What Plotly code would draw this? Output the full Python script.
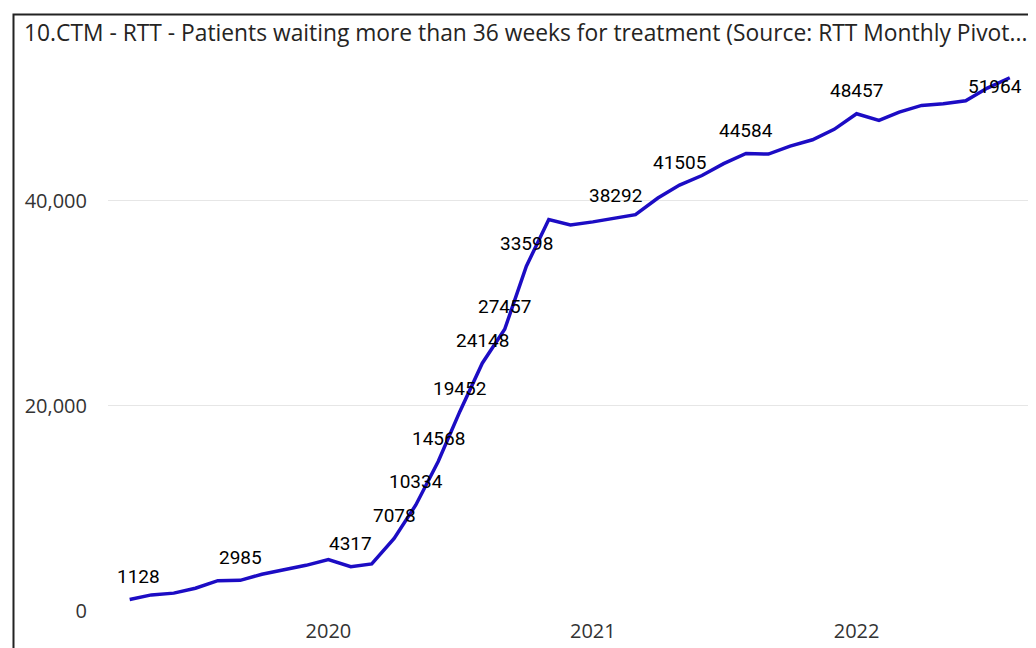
import plotly.graph_objects as go

months = [
    "2019-04-01", "2019-05-01", "2019-06-01", "2019-07-01", "2019-08-01", "2019-09-01",
    "2019-10-01", "2019-11-01", "2019-12-01", "2020-01-01", "2020-02-01", "2020-03-01",
    "2020-04-01", "2020-05-01", "2020-06-01", "2020-07-01", "2020-08-01", "2020-09-01",
    "2020-10-01", "2020-11-01", "2020-12-01", "2021-01-01", "2021-02-01", "2021-03-01",
    "2021-04-01", "2021-05-01", "2021-06-01", "2021-07-01", "2021-08-01", "2021-09-01",
    "2021-10-01", "2021-11-01", "2021-12-01", "2022-01-01", "2022-02-01", "2022-03-01",
    "2022-04-01", "2022-05-01", "2022-06-01", "2022-07-01", "2022-08-01",
]
patients = [
    1128, 1570, 1740, 2220, 2960, 2985, 3580, 3990, 4450, 5010, 4317, 4590,
    7078, 10334, 14568, 19452, 24148, 27457, 33598, 38150, 37620, 37920, 38292, 38620,
    40240, 41505, 42440, 43590, 44584, 44530, 45300, 45920, 46940, 48457, 47810, 48620,
    49270, 49430, 49720, 50960, 51964,
]
# indices of points that carry a data label in the reference
labelled = [0, 5, 10, 12, 13, 14, 15, 16, 17, 18, 22, 25, 28, 33, 40]

y_ticks = [0, 20000, 40000]
y_tick_text = ["0", "20,000", "40,000"]

title_text = "10.CTM - RTT - Patients waiting more than 36 weeks for treatment (Source: RTT Monthly Pivot..."

W, H = 1028, 640  # page body adds an 8px margin

fig = go.Figure()
fig.add_trace(go.Scatter(
    x=months, y=patients, mode="lines",
    line=dict(color="#1C0CC4", width=3.5),
    hoverinfo="x+y", showlegend=False,
))

annotations = []
for k in labelled:
    xs, ys = 0, 23
    if k == 0:
        xs = 9
    if k == len(patients) - 1:
        xs, ys = -15, -9
    annotations.append(dict(
        x=months[k], y=patients[k], xref="x", yref="y",
        text=str(patients[k]), showarrow=False,
        xanchor="center", yanchor="middle", xshift=xs, yshift=ys,
        font=dict(family="Roboto", size=19, color="#000000"),
    ))
fig.update_layout(annotations=annotations)

# frame around the visual (left and top edges visible)
fig.add_shape(
    type="path", xref="paper", yref="paper",
    path="M -0.1025 -0.2 L -0.1025 1.0865 L 1.2 1.0865",
    line=dict(color="#222222", width=2),
)

fig.update_layout(
    width=W, height=H,
    margin=dict(l=100, r=6, t=54, b=37, autoexpand=False),
    paper_bgcolor="white", plot_bgcolor="white",
    title=dict(
        text=title_text, xref="container", yref="container",
        x=16 / W, xanchor="left", y=1 - 25 / H, yanchor="middle",
        font=dict(family="Open Sans", size=22.8, color="#252423"),
    ),
    xaxis=dict(
        type="date", range=["2019-03-02", "2022-08-29"],
        dtick="M12", tick0="2020-01-01", tickformat="%Y",
        showgrid=False, zeroline=False, showline=False, ticks="",
        ticklabelstandoff=6, automargin=False,
        tickfont=dict(family="Open Sans", size=20, color="#333333"),
    ),
    yaxis=dict(
        range=[0, 53500], tickvals=y_ticks, ticktext=y_tick_text,
        showgrid=True, gridcolor="#E6E6E6", gridwidth=1,
        zeroline=False, showline=False, ticks="",
        ticklabelstandoff=20, automargin=False,
        tickfont=dict(family="Open Sans", size=20, color="#333333"),
    ),
)

fig.write_html("out.html")
